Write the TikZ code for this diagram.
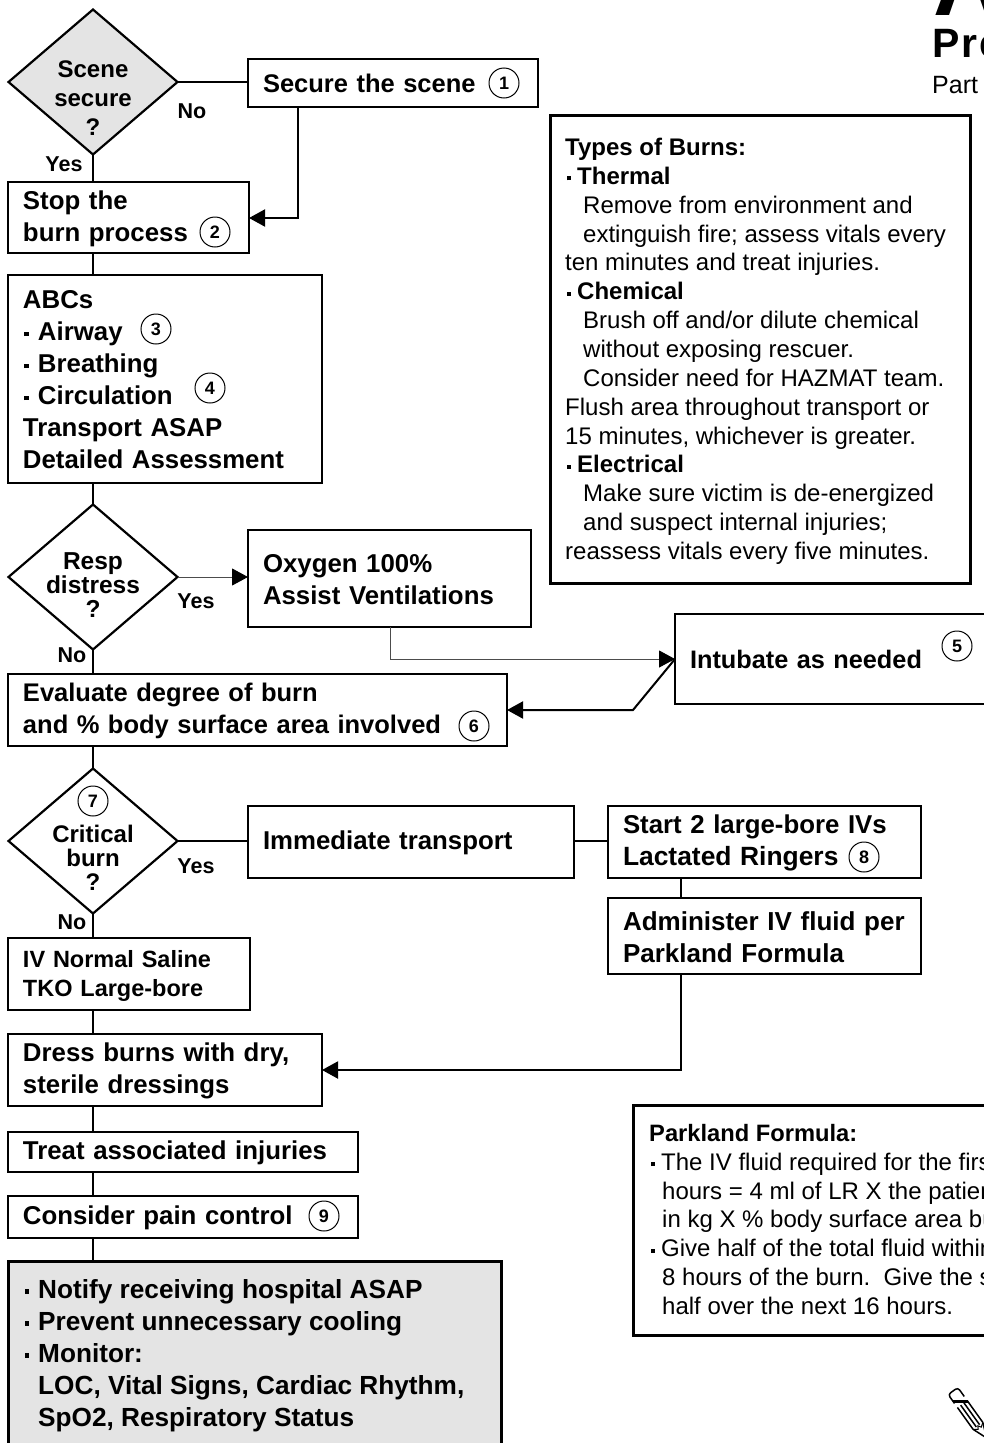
\documentclass[tikz,border=0pt]{standalone}
\usepackage{fontspec}
\setmainfont{Liberation Sans}
\usetikzlibrary{shapes.geometric,arrows.meta}
\definecolor{panel}{HTML}{E4E4E4}
\newcommand\fs[2]{\fontsize{#1}{#2}\selectfont}
\newcommand\bu[1][15pt]{\makebox[#1][l]{\hspace{1.5pt}\rule[0.17em]{0.17em}{0.17em}}}
\tikzset{
  box/.style={draw,line width=2.2pt,outer sep=0pt,anchor=north west,rectangle,inner xsep=15pt,inner ysep=0pt,align=left,font=\fs{25.8}{32}\bfseries,execute at begin node={\rule{0pt}{21pt}}},
  lift/.style={execute at begin node=,execute at end node={\rule[-2pt]{0pt}{2pt}}},
  dia/.style={draw,line width=2.2pt,outer sep=0pt,diamond,inner sep=0pt,minimum width=169pt,minimum height=145pt,shape aspect=1.165},
  dtext/.style={align=center,inner sep=0pt,font=\fs{24}{24}\bfseries},
  conn/.style={line width=2pt},
  thin conn/.style={line width=1pt,black!70},
  arr/.style={-{Triangle[length=16pt,width=17pt,color=black]}},
  tag/.style={inner sep=0pt,font=\fs{21.5}{22}\bfseries,anchor=center},
  num/.style={draw,circle,line width=1pt,minimum size=30pt,inner sep=0pt,font=\fs{18}{20}\bfseries},
  panelbox/.style={draw,line width=3pt,rectangle,outer sep=0pt,anchor=north west,inner sep=0pt},
  ptext/.style={anchor=north west,inner sep=0pt,align=left,font=\fs{24}{28.85}}
}
\begin{document}
\begin{tikzpicture}[x=1pt,y=-1pt]
\useasboundingbox (0,0) rectangle (984,1443);
% title
\node[anchor=base west,inner sep=0pt,font=\fs{95}{100}\bfseries] (ta) at (933,15) {A};
\node[anchor=base west,inner sep=0pt,font=\fs{41}{50}\bfseries] (tb) at (932,57) {P\hspace{2pt}r\hspace{2pt}e};
\node[anchor=base west,inner sep=0pt,font=\fs{25}{28}] (tc) at (932,93) {Part};
% decisions
\node[dia,fill=panel] (d1) at (93,82) {};
\node[dtext,font=\fs{24}{29}\bfseries] (d1t) at (93,98) {Scene\\secure\\?};
\node[dia] (d2) at (93,577) {};
\node[dtext,font=\fs{24.5}{24}\bfseries] (d2t) at (93,585) {Resp\\distress\\?};
\node[dia] (d3) at (93,841) {};
\node[dtext] (d3t) at (93,858) {Critical\\burn\\?};
% boxes
\node[box,lift,font=\fs{25.5}{32}\bfseries,minimum width=290pt,minimum height=48pt,text width=260pt] (secure) at (248,59) {Secure the scene};
\node[box,minimum width=241pt,minimum height=71pt,text width=211pt] (stop) at (8,182) {Stop the\\burn process};
\node[box,lift,minimum width=314pt,minimum height=208pt,text width=284pt] (abc) at (8,275) {ABCs\\\bu Airway\\\bu Breathing\\\bu Circulation\\Transport ASAP\\Detailed Assessment};
\node[box,lift,minimum width=283pt,minimum height=97pt,text width=253pt] (oxy) at (248,530) {Oxygen 100\%\\Assist Ventilations};
\node[box,lift,font=\fs{25.3}{32}\bfseries,minimum width=340pt,minimum height=90pt,text width=310pt] (intu) at (675,614) {Intubate as needed};
\node[box,font=\fs{25.5}{32}\bfseries,minimum width=499pt,minimum height=72pt,text width=469pt] (eval) at (8,674) {Evaluate degree of burn\\and \% body surface area involved};
\node[box,minimum width=326pt,minimum height=72pt,text width=296pt] (imm) at (248,806) {Immediate transport};
\node[box,minimum width=313pt,minimum height=72pt,text width=283pt] (start) at (608,806) {Start 2 large-bore IVs\\{\fontsize{26.4}{32}\selectfont Lactated Ringers}};
\node[box,minimum width=313pt,minimum height=76pt,text width=283pt,font=\fs{26}{32}\bfseries] (admin) at (608,898) {Administer IV fluid per\\Parkland Formula};
\node[box,minimum width=242pt,minimum height=72pt,text width=212pt,font=\fs{23.5}{29}\bfseries] (ivns) at (8,938) {IV Normal Saline\\TKO Large-bore};
\node[box,minimum width=314pt,minimum height=72pt,text width=284pt] (dress) at (8,1034) {Dress burns with dry,\\sterile dressings};
\node[box,minimum width=350pt,minimum height=40pt,text width=320pt] (treat) at (8,1132) {Treat associated injuries};
\node[box,minimum width=350pt,minimum height=42pt,text width=320pt] (pain) at (8,1196) {Consider pain control};
% monitoring panel
\node[panelbox,fill=panel,minimum width=493pt,minimum height=200pt] (mon) at (8,1261) {};
\node[anchor=north west,inner sep=0pt,align=left,font=\fs{26.2}{32}\bfseries] (mont) at (23,1279) {\bu Notify receiving hospital ASAP\\\bu Prevent unnecessary cooling\\\bu Monitor:\\\hspace*{15pt}LOC, Vital Signs, Cardiac Rhythm,\\\hspace*{15pt}SpO2, Respiratory Status};
% types of burns
\node[panelbox,minimum width=420pt,minimum height=468pt] (types) at (550,115) {};
\node[ptext] (typest) at (565,138) {\textbf{Types of Burns:}\\\textbf{\bu[12pt]Thermal}\\\hspace*{18pt}Remove from environment and\\\hspace*{18pt}extinguish fire; assess vitals every\\ten minutes and treat injuries.\\\textbf{\bu[12pt]Chemical}\\\hspace*{18pt}Brush off and/or dilute chemical\\\hspace*{18pt}without exposing rescuer.\\\hspace*{18pt}Consider need for HAZMAT team.\\Flush area throughout transport or\\15 minutes, whichever is greater.\\\textbf{\bu[12pt]Electrical}\\\hspace*{18pt}Make sure victim is de-energized\\\hspace*{18pt}and suspect internal injuries;\\reassess vitals every five minutes.};
% parkland
\node[panelbox,minimum width=400pt,minimum height=230pt] (park) at (633,1105) {};
\node[ptext,font=\fs{24}{28.85}] (parkt) at (649,1124) {{\fontsize{23.7}{28.85}\selectfont\textbf{Parkland Formula:}}\\\bu[12pt]The IV fluid required for the first\\\hspace*{13pt}hours = 4 ml of LR X the patient's\\\hspace*{13pt}in kg X \% body surface area burned\\\bu[12pt]Give half of the total fluid within\\\hspace*{13pt}8 hours of the burn.\ \ Give the second\\\hspace*{13pt}half over the next 16 hours.};
% connectors
\coordinate (c1) at (298,218);
\coordinate (c2) at (390,659);
\coordinate (c3) at (633,710);
\coordinate (c4) at (681,1070);
\draw[conn] (d1.east) -- (d1.east -| secure.west);
\draw[conn,arr] (c1 |- secure.south) -- (c1) -- (c1 -| stop.east);
\draw[conn] (d1.south) -- (d1.south |- stop.north);
\draw[conn] (d1.south |- stop.south) -- (d1.south |- abc.north);
\draw[conn] (d1.south |- abc.south) -- (d2.north);
\draw[thin conn,arr] (d2.east) -- (d2.east -| oxy.west);
\draw[thin conn,arr] (c2 |- oxy.south) -- (c2) -- (c2 -| intu.west);
\draw[conn,arr] (c2 -| intu.west) -- (c3) -- (c3 -| eval.east);
\draw[conn] (d2.south) -- (d2.south |- eval.north);
\draw[conn] (d2.south |- eval.south) -- (d3.north);
\draw[conn] (d3.east) -- (d3.east -| imm.west);
\draw[conn] (d3.east -| imm.east) -- (d3.east -| start.west);
\draw[conn] (c4 |- start.south) -- (c4 |- admin.north);
\draw[conn,arr] (c4 |- admin.south) -- (c4) -- (c4 -| dress.east);
\draw[conn] (d3.south) -- (d3.south |- ivns.north);
\draw[conn] (d3.south |- ivns.south) -- (d3.south |- dress.north);
\draw[conn] (d3.south |- dress.south) -- (d3.south |- treat.north);
\draw[conn] (d3.south |- treat.south) -- (d3.south |- pain.north);
\draw[conn] (d3.south |- pain.south) -- (d3.south |- mon.north);
% yes/no
\node[tag] (l1) at (192,111) {No};
\node[tag] (l2) at (64,164) {Yes};
\node[tag] (l3) at (196,601) {Yes};
\node[tag] (l4) at (72,655) {No};
\node[tag] (l5) at (196,866) {Yes};
\node[tag] (l6) at (72,922) {No};
% numbers
\node[num] (n1) at (504,83) {1};
\node[num] (n2) at (215,232) {2};
\node[num] (n3) at (156,329) {3};
\node[num] (n4) at (210,388) {4};
\node[num] (n5) at (957,646) {5};
\node[num] (n6) at (474,726) {6};
\node[num] (n7) at (93,801) {7};
\node[num] (n8) at (864,857) {8};
\node[num] (n9) at (324,1216) {9};
% pencil
\begin{scope}[shift={(953,1391)},x={(.58pt,-.81pt)},y={(.81pt,.58pt)},line width=1.5pt]
\draw[rounded corners=3pt] (11,-6) -- (0,-6) -- (0,6) -- (11,6);
\fill (10,-6.7) rectangle (16,6.7);
\draw (16,-6) -- (43,-6) (16,-2) -- (43,-2) (16,2) -- (43,2) (16,6) -- (43,6);
\draw[line width=1pt] (43,-6) -- (46,-2) -- (43,0) -- (46,2) -- (43,6);
\draw (43,-6) -- (58,0) -- (43,6);
\end{scope}
\end{tikzpicture}
\end{document}
